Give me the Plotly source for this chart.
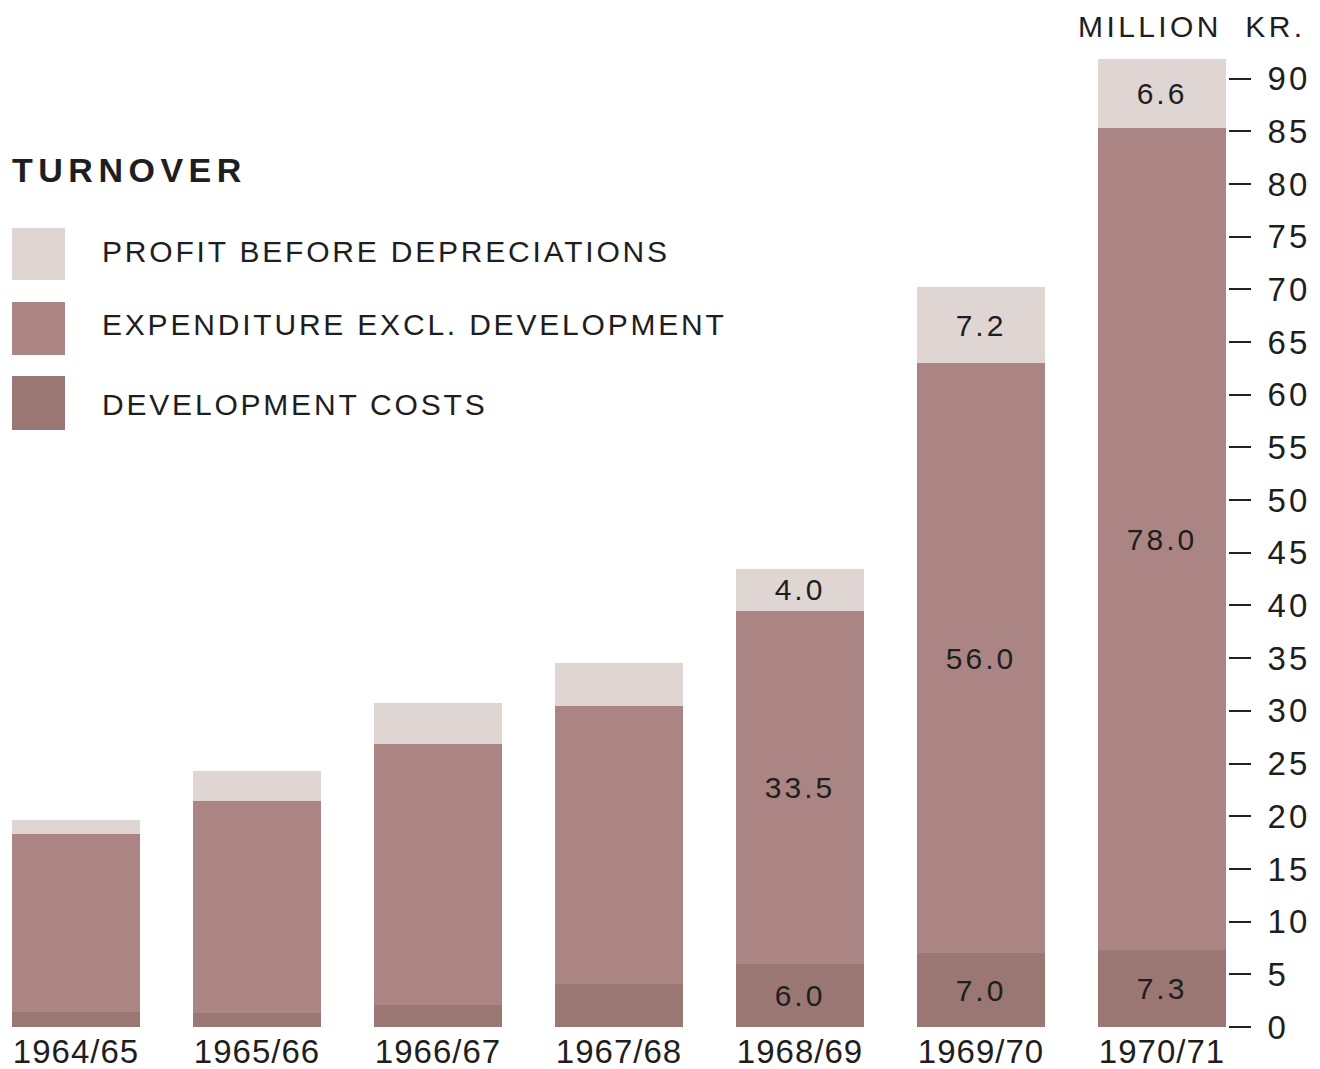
import plotly.graph_objects as go

# ---- data ----
years = ["1964/65", "1965/66", "1966/67", "1967/68", "1968/69", "1969/70", "1970/71"]
development = [1.4, 1.3, 2.1, 4.1, 6.0, 7.0, 7.3]
expenditure = [16.9, 20.1, 24.8, 26.4, 33.5, 56.0, 78.0]
profit = [1.3, 2.9, 3.8, 4.0, 4.0, 7.2, 6.6]
labelled = [False, False, False, False, True, True, True]
y_ticks = list(range(0, 95, 5))

series_names = ["DEVELOPMENT COSTS", "EXPENDITURE EXCL. DEVELOPMENT", "PROFIT BEFORE DEPRECIATIONS"]
colors = {"dev": "#9a7773", "exp": "#ab8583", "pro": "#dfd5d3"}

W, H = 1320, 1069
L, R, T, B = 0, 92, 47, 42
PW, PH = W - L - R, H - T - B
FONT = "Liberation Sans, Arial, sans-serif"
TXT = "#1e1e1e"


def sp(s, ls=3):
    return f"<span style='letter-spacing:{ls}px'>{s}</span>"


def fmt(vals):
    return [sp(f"{v:.1f}", 3) if show else "" for v, show in zip(vals, labelled)]


fig = go.Figure()
for vals, key, name in [(development, "dev", series_names[0]),
                        (expenditure, "exp", series_names[1]),
                        (profit, "pro", series_names[2])]:
    fig.add_trace(go.Bar(
        x=list(range(len(years))), y=vals, name=name,
        marker=dict(color=colors[key], line=dict(width=0)),
        text=fmt(vals), textposition="inside", insidetextanchor="middle",
        textangle=0, constraintext="none",
        textfont=dict(family=FONT, size=30, color=TXT),
        showlegend=False, hoverinfo="skip",
    ))


def px(x):
    return (x - L) / PW


def py(y):
    return (H - B - y) / PH


shapes = []
annotations = []
# legend title
annotations.append(dict(x=px(10), y=py(170), xref="paper", yref="paper", xanchor="left", yanchor="middle",
                        text="<b>" + sp("TURNOVER", 5.5) + "</b>", showarrow=False,
                        font=dict(family=FONT, size=34, color=TXT)))
legend_rows = [(228, 280, 251, "pro", series_names[2]),
               (302, 355, 325, "exp", series_names[1]),
               (376, 430, 404, "dev", series_names[0])]
for y0, y1, yc, key, name in legend_rows:
    shapes.append(dict(type="rect", xref="paper", yref="paper", x0=px(12), x1=px(65),
                       y0=py(y1), y1=py(y0), fillcolor=colors[key], line=dict(width=0), layer="above"))
    annotations.append(dict(x=px(100), y=py(yc), xref="paper", yref="paper", xanchor="left", yanchor="middle",
                            text=sp(name, 2.8), showarrow=False,
                            font=dict(family=FONT, size=30, color=TXT)))
# unit label
annotations.append(dict(x=px(1308), y=py(26), xref="paper", yref="paper", xanchor="right", yanchor="middle",
                        text=sp("MILLION&nbsp;&nbsp;KR.", 3.4), showarrow=False,
                        font=dict(family=FONT, size=30, color=TXT)))

fig.update_layout(
    width=W, height=H,
    margin=dict(l=L, r=R, t=T, b=B, pad=0),
    paper_bgcolor="white", plot_bgcolor="white",
    barmode="stack", bargap=0.293,
    shapes=shapes, annotations=annotations,
    xaxis=dict(range=[-76 / 181, -76 / 181 + PW / 181], tickmode="array",
               tickvals=list(range(len(years))), ticktext=[sp(y, 1) for y in years],
               tickfont=dict(family=FONT, size=33, color=TXT),
               showgrid=False, zeroline=False, showline=False, ticks="", ticklabelstandoff=2),
    yaxis=dict(range=[0, 93], side="right", tickmode="array", tickvals=y_ticks,
               ticktext=[sp(str(v), 3) for v in y_ticks],
               tickfont=dict(family=FONT, size=33, color=TXT),
               ticks="outside", ticklen=22, tickwidth=2, tickcolor="#222",
               showgrid=False, zeroline=False, showline=False, ticklabelstandoff=10),
)

fig.write_html("out.html")
